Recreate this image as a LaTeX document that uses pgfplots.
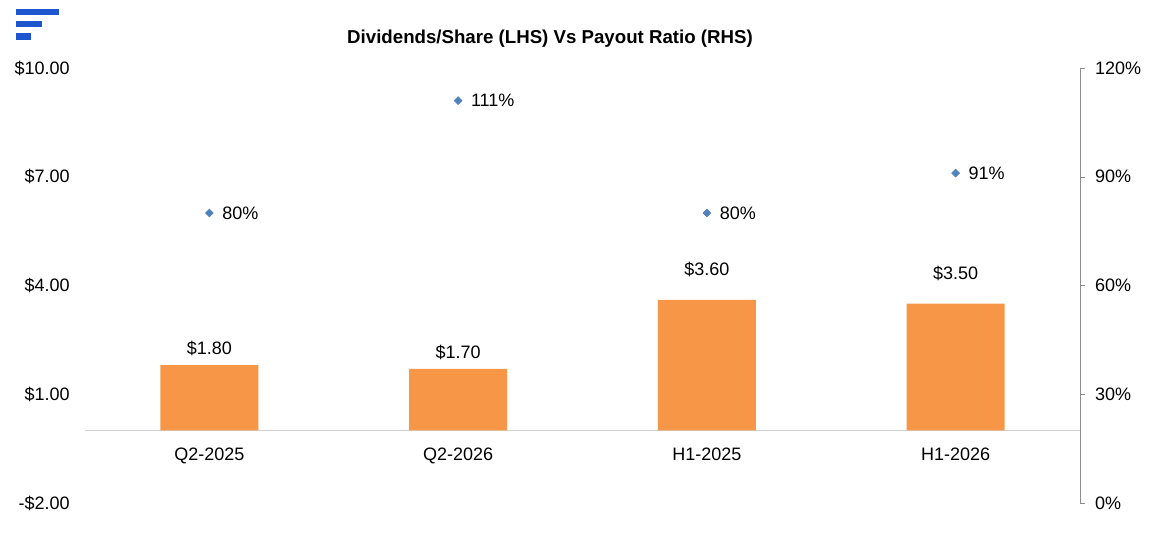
\documentclass[border=0pt]{standalone}
\usepackage{pgfplots}
\pgfplotsset{compat=1.18}
\usepackage{fontspec}
\setmainfont{Liberation Sans}
\definecolor{barorange}{HTML}{F79646}
\definecolor{mkblue}{HTML}{4F81BD}
\definecolor{logoblue}{HTML}{1E56D0}
\begin{document}
\begin{tikzpicture}
\begin{axis}[
  scale only axis, width=746.25pt, height=326.25pt,
  xmin=-0.5, xmax=3.5, ymin=-2, ymax=10,
  axis x line*=middle, axis y line*=left,
  x axis line style={draw=black!18,-},
  y axis line style={draw=none},
  xtick={0,1,2,3},
  xticklabels={Q2-2025,Q2-2026,H1-2025,H1-2026},
  ytick={-2,1,4,7,10},
  yticklabels={-\$2.00,\$1.00,\$4.00,\$7.00,\$10.00},
  major tick length=0pt,
  tick label style={font=\fontsize{13.5}{16}\selectfont},
  xticklabel style={yshift=-9.75pt},
  yticklabel style={xshift=-8pt},
  clip=false,
]
\coordinate (sw) at (rel axis cs:0,0);
\coordinate (ne) at (rel axis cs:1,1);
\addplot[ybar, bar shift=0pt, bar width=73.5pt, fill=barorange, draw=none,
  point meta=explicit symbolic,
  nodes near coords,
  every node near coord/.append style={font=\fontsize{13.5}{16}\selectfont, anchor=south, inner sep=0pt, yshift=7pt, black}]
  coordinates {(0,1.8) [\$1.80] (1,1.7) [\$1.70]};
\addplot[ybar, bar shift=0pt, bar width=73.5pt, fill=barorange, draw=none,
  point meta=explicit symbolic,
  nodes near coords,
  every node near coord/.append style={font=\fontsize{13.5}{16}\selectfont, anchor=south, inner sep=0pt, yshift=17pt, black}]
  coordinates {(2,3.6) [\$3.60] (3,3.5) [\$3.50]};
\end{axis}
\begin{axis}[
  scale only axis, width=746.25pt, height=326.25pt,
  xmin=-0.5, xmax=3.5, ymin=0, ymax=120,
  axis x line=none, axis y line*=right,
  y axis line style={draw=black!45},
  ytick={0,30,60,90,120},
  yticklabels={0\%,30\%,60\%,90\%,120\%},
  ytick style={draw=black!45},
  tick align=outside, major tick length=3.75pt,
  tick label style={font=\fontsize{13.5}{16}\selectfont},
  yticklabel style={xshift=4pt},
  clip=false,
]
\addplot[only marks, mark=square*, mark size=2.1pt, mark options={rotate=45, fill=mkblue, draw=mkblue},
  point meta=explicit symbolic,
  nodes near coords,
  every node near coord/.append style={font=\fontsize{13.5}{16}\selectfont, anchor=west, inner sep=0pt, xshift=9.5pt, black}]
  coordinates {(0,80) [80\%] (1,111) [111\%] (2,80) [80\%] (3,91) [91\%]};
\end{axis}
% logo and title, placed from the plot area's corner (canvas 1153x546 px at 0.75pt/px)
\begin{scope}[shift={(sw)}, x=1pt, y=1pt]
\fill[logoblue] (-51.75,370.5) rectangle (-19.5,366.25);
\fill[logoblue] (-51.75,361.5) rectangle (-32.25,356.75);
\fill[logoblue] (-51.75,352.5) rectangle (-40.75,347.25);
\node[font=\fontsize{14}{16}\selectfont\bfseries] at (348.75,348.5) {Dividends/Share (LHS) Vs Payout Ratio (RHS)};
\end{scope}
\pgfresetboundingbox
\path[use as bounding box] ([shift={(-63.75pt,-32.25pt)}]sw) rectangle ([shift={(54.75pt,51pt)}]ne);
\end{tikzpicture}
\end{document}
